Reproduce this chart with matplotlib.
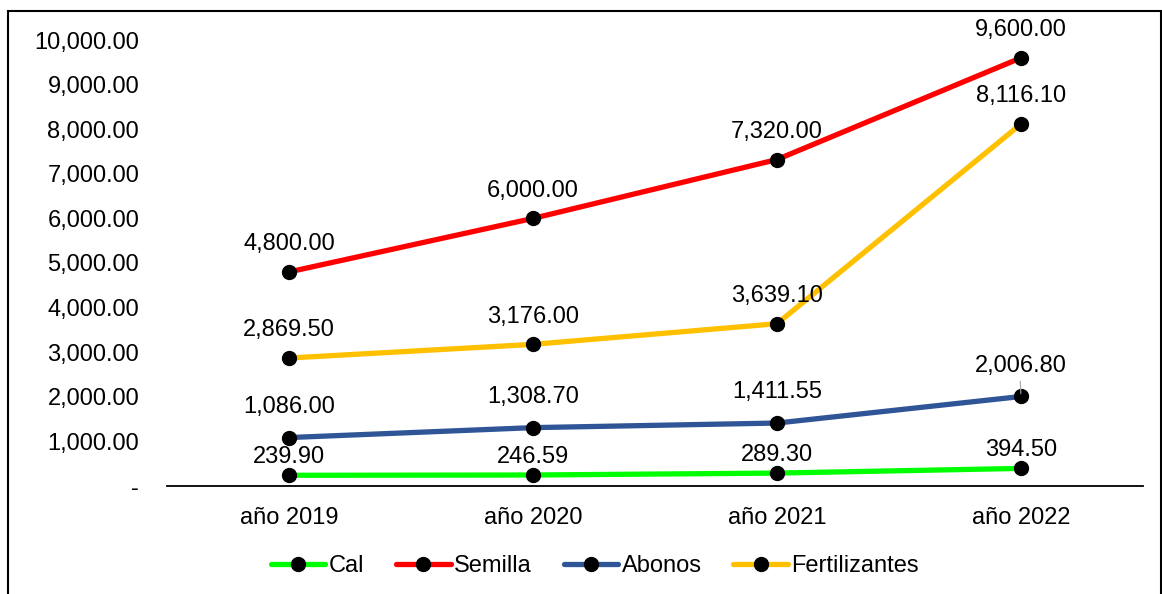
"""
Costos de insumos por año (Cal, Semilla, Abonos, Fertilizantes).
"""
import matplotlib
matplotlib.use("Agg")
import matplotlib.pyplot as plt
from matplotlib.patches import Rectangle
from matplotlib.ticker import FuncFormatter

plt.rcParams["font.family"] = ["Liberation Sans", "DejaVu Sans"]

# -- data ----------------------------------------------------------------------
years         = ["año 2019", "año 2020", "año 2021", "año 2022"]
cal           = [239.90, 246.59, 289.30, 394.50]
semilla       = [4800.00, 6000.00, 7320.00, 9600.00]
abonos        = [1086.00, 1308.70, 1411.55, 2006.80]
fertilizantes = [2869.50, 3176.00, 3639.10, 8116.10]

series = [
    ("Cal", cal, "#00FF00", 13),
    ("Semilla", semilla, "#FF0000", 20),
    ("Abonos", abonos, "#2F5597", 22),
    ("Fertilizantes", fertilizantes, "#FFC000", 20),
]

FS = 17

# -- figure --------------------------------------------------------------------
fig = plt.figure(figsize=(11.62, 5.94), dpi=100)
ax = fig.add_axes([167 / 1162, 1 - 486 / 594, 976 / 1162, 446 / 594])

fig.patches.append(Rectangle((8 / 1162, -0.05), 1152.5 / 1162, 1.05 - 11 / 594,
                             transform=fig.transFigure, fill=False,
                             edgecolor="black", linewidth=1.5))

x = list(range(len(years)))
for name, vals, color, dy in series:
    ax.plot(x, vals, color=color, linewidth=3.8, marker="o", markersize=10,
            markerfacecolor="black", markeredgecolor="black", label=name,
            zorder=3, clip_on=False, solid_capstyle="round")
    for xi, v in zip(x, vals):
        ax.annotate(f"{v:,.2f}", (xi, v), textcoords="offset points",
                    xytext=(0, dy), ha="center", va="center",
                    fontsize=FS, color="black", annotation_clip=False)

# small leader line for the last Abonos label
ax.annotate("", (3, abonos[3]), xytext=(-0.6, 13), textcoords="offset points",
            arrowprops=dict(arrowstyle="-", color="#A6A6A6", lw=0.8))

ax.set_xlim(-0.5, 3.5)
ax.set_ylim(0, 10000)
ax.set_xticks(x)
ax.set_xticklabels(years)
ax.set_yticks(range(0, 10001, 1000))
ax.yaxis.set_major_formatter(FuncFormatter(
    lambda v, p: "-" if v == 0 else f"{v:,.2f}"))
ax.tick_params(axis="both", length=0, labelsize=FS, colors="black")
ax.tick_params(axis="x", pad=15)
ax.tick_params(axis="y", pad=20)

for side in ["top", "right", "left"]:
    ax.spines[side].set_visible(False)
ax.spines["bottom"].set_color("black")
ax.spines["bottom"].set_linewidth(1.3)

fig.legend(loc="center", bbox_to_anchor=(595 / 1162, 1 - 566 / 594), ncol=4,
           frameon=False, fontsize=FS, handlelength=2.3, handletextpad=0.15,
           columnspacing=1.35)

fig.savefig("out.png", dpi=100, facecolor="white")
plt.close(fig)
